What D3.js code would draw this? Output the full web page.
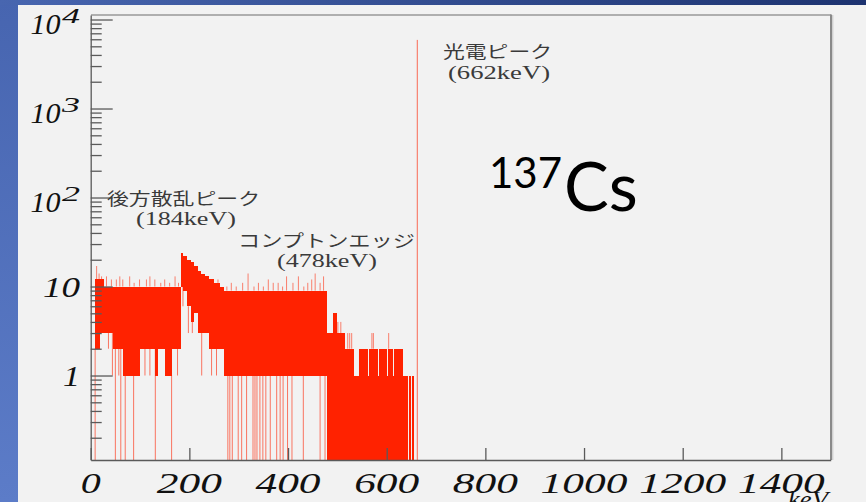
<!DOCTYPE html>
<html lang="ja">
<head>
<meta charset="UTF-8">
<title>137Cs spectrum</title>
<script src="https://cdn.jsdelivr.net/npm/d3@7"></script>
<style>
    body { margin: 0; background: #f2f2f2; }
    svg { display: block; }
    .axis path, .axis line { stroke: #5a5a5a; stroke-width: 1.3; }
    .band { shape-rendering: crispEdges; }
    .lab { font-family: "Liberation Serif", serif; font-style: italic; fill: #111; }
    .jp { font-family: "Noto Sans CJK JP", sans-serif; fill: #3a3a3a; font-size: 17px; }
    .kev { font-family: "Liberation Serif", serif; fill: #3a3a3a; font-size: 18px; }
    .iso { font-family: Lato, "Open Sans", sans-serif; fill: #000; }
</style>
</head>
<body>
<svg width="866" height="502"></svg>
<script>
    // x axis (keV) and y axis (counts, log) ticks
    var xTicks = [0, 200, 400, 600, 800, 1000, 1200, 1400];
    var yDecades = [1, 10, 100, 1000, 10000];

    // spectrum, bin by bin is too fine, so as bands:
    // [from keV, to keV, lowest count, highest count]  (0 = empty bins)
    var bands = [
        [8, 19, 2, 12], [19, 26, 3, 12], [26, 46, 3, 10], [46, 66, 2, 10],
        [66, 100, 1, 10], [100, 131, 2, 10], [131, 136, 1, 10], [136, 151, 2, 10],
        [151, 165, 1, 10], [165, 183, 2, 10],
        [183, 188, 10, 24], [188, 196, 9, 22], [196, 203, 6, 20], [203, 210, 4, 19],
        [210, 217, 5, 17], [217, 224, 3, 15], [224, 232, 3, 14], [232, 240, 3, 13],
        [240, 250, 2, 12], [250, 262, 2, 11], [262, 271, 2, 10], [271, 478, 1, 9],
        [478, 492, 0, 3], [492, 499, 0, 5], [499, 516, 0, 3], [516, 533, 0, 2],
        [533, 543, 0, 1], [543, 562, 0, 2], [562, 564, 0, 1], [564, 583, 0, 2],
        [583, 585, 0, 1], [585, 600, 0, 2], [600, 602, 0, 1], [602, 613, 0, 2],
        [613, 615, 0, 1], [615, 634, 0, 2], [634, 643, 0, 1], [645, 650, 0, 1],
        [652, 655, 0, 1]
    ];

    // single bins above a band: [keV, count]
    var spikes = [
        [12, 17], [17, 14], [22, 13], [32, 13], [42, 12], [52, 12], [59, 13], [65, 12],
        [79, 13], [88, 11], [99, 12], [113, 12], [120, 13], [130, 12], [142, 11],
        [150, 12], [160, 11], [171, 13], [178, 11],
        [258, 12], [276, 10], [285, 11], [295, 10], [308, 11], [319, 14], [331, 10],
        [340, 11], [350, 10], [360, 12], [370, 11], [380, 11], [389, 10], [397, 13],
        [410, 11], [421, 13], [432, 10], [440, 11], [448, 12], [455, 14], [465, 11],
        [472, 13],
        [501, 4], [507, 4], [521, 3], [525, 3], [529, 3], [570, 3], [573, 3], [604, 3]
    ];

    // single bins below a band: [keV, count]
    var dips = [
        [9, 0], [36, 2], [44, 1], [50, 0], [57, 1], [61, 0], [70, 0], [87, 0],
        [110, 1], [120, 1], [131, 0], [164, 0], [176, 1],
        [187, 6], [198, 3], [206, 3], [225, 1], [245, 1], [255, 1],
        [278, 0], [282, 0], [287, 0], [299, 0], [306, 0], [316, 0], [329, 0], [333, 0],
        [337, 0], [343, 0], [349, 0], [355, 0], [364, 0], [377, 0], [384, 0], [390, 0],
        [399, 0], [408, 0], [431, 0], [465, 0], [475, 0]
    ];

    var photoPeak = [662, 5900];

    var notes = [
        ["光電ピーク", "(662keV)"],
        ["後方散乱ピーク", "(184keV)"],
        ["コンプトンエッジ", "(478keV)"]
    ];

    var svg = d3.select("svg");
    var red = "#ff2200";

    // slide background
    var defs = svg.append("defs");
    var gTop = defs.append("linearGradient").attr("id", "topband");
    gTop.append("stop").attr("offset", "0").attr("stop-color", "#4866b0");
    gTop.append("stop").attr("offset", "1").attr("stop-color", "#1d3370");
    var gLeft = defs.append("linearGradient").attr("id", "leftband")
        .attr("x1", 0).attr("y1", 0).attr("x2", 0).attr("y2", 1);
    gLeft.append("stop").attr("offset", "0").attr("stop-color", "#4765b0");
    gLeft.append("stop").attr("offset", "1").attr("stop-color", "#5c7cc8");
    defs.append("clipPath").attr("id", "plotclip").append("rect")
        .attr("x", 91).attr("y", 15).attr("width", 740).attr("height", 445);

    svg.append("rect").attr("width", 866).attr("height", 502).attr("fill", "url(#leftband)");
    svg.append("rect").attr("width", 866).attr("height", 5).attr("fill", "url(#topband)");
    svg.append("rect").attr("x", 18).attr("y", 5).attr("width", 848).attr("height", 497).attr("fill", "#f2f2f2");

    var x = d3.scaleLinear().domain([0, 1500]).range([90.7, 830.7]);
    var y = d3.scaleLog().domain([0.1124, 11240]).range([460, 15]);
    var floorY = function (c) { return c > 0 ? y(c) : 461; };

    function bandAt(k) {
        return bands.find(function (b) { return k >= b[0] && k <= b[1]; });
    }

    var plot = svg.append("g").attr("clip-path", "url(#plotclip)");

    // bands snapped to whole pixels so neighbours join without seams
    plot.selectAll("rect.band")
        .data(bands)
        .enter()
        .append("rect")
        .attr("class", "band")
        .attr("x", function (d) { return Math.round(x(d[0])); })
        .attr("width", function (d) { return Math.max(1, Math.round(x(d[1])) - Math.round(x(d[0]))); })
        .attr("y", function (d) { return Math.round(y(d[3])); })
        .attr("height", function (d) { return Math.round(floorY(d[2])) - Math.round(y(d[3])); })
        .attr("fill", red);

    plot.selectAll("line.spike")
        .data(spikes)
        .enter()
        .append("line")
        .attr("x1", function (d) { return x(d[0]); })
        .attr("x2", function (d) { return x(d[0]); })
        .attr("y1", function (d) { var b = bandAt(d[0]); return b ? y(b[3]) : 461; })
        .attr("y2", function (d) { return y(d[1]); })
        .attr("stroke", red).attr("stroke-width", 1).attr("opacity", 0.55);

    plot.selectAll("line.dip")
        .data(dips)
        .enter()
        .append("line")
        .attr("x1", function (d) { return x(d[0]); })
        .attr("x2", function (d) { return x(d[0]); })
        .attr("y1", function (d) { var b = bandAt(d[0]); return b ? floorY(b[2]) : y(1); })
        .attr("y2", function (d) { return floorY(d[1]); })
        .attr("stroke", red).attr("stroke-width", 1).attr("opacity", 0.6);

    plot.append("line")
        .attr("x1", x(photoPeak[0])).attr("x2", x(photoPeak[0]))
        .attr("y1", 461).attr("y2", y(photoPeak[1]))
        .attr("stroke", red).attr("stroke-width", 1).attr("opacity", 0.65);

    // frame
    svg.append("line").attr("x1", 91).attr("x2", 831).attr("y1", 15).attr("y2", 15)
        .attr("stroke", "#999").attr("stroke-width", 1.5);
    svg.append("line").attr("x1", 831).attr("x2", 831).attr("y1", 14.5).attr("y2", 460)
        .attr("stroke", "#8a8a8a").attr("stroke-width", 2);
    svg.append("line").attr("x1", 832.8).attr("x2", 832.8).attr("y1", 15).attr("y2", 460)
        .attr("stroke", "#c4c4c4").attr("stroke-width", 1);

    // axes
    svg.append("g").attr("class", "axis").attr("transform", "translate(0,460)")
        .call(d3.axisBottom(x).tickValues(xTicks).tickSize(-12).tickSizeOuter(0).tickFormat(""))
        .select(".domain").attr("stroke-width", 2);

    var minor = y.ticks().filter(function (v) { return yDecades.indexOf(v) < 0 && v > 0.15; });
    svg.append("g").attr("class", "axis").attr("transform", "translate(90.7,0)")
        .call(d3.axisLeft(y).tickValues(minor).tickSize(-11).tickSizeOuter(0).tickFormat(""))
        .select(".domain").attr("stroke-width", 2);
    svg.append("g").attr("class", "axis").attr("transform", "translate(90.7,0)")
        .call(d3.axisLeft(y).tickValues(yDecades).tickSize(-22).tickSizeOuter(0).tickFormat(""))
        .select(".domain").remove();

    // x labels
    xTicks.forEach(function (v) {
        var s = String(v);
        var w = s.length === 1 ? 20 : s.length * 21.7;
        svg.append("text").attr("class", "lab")
            .attr("x", x(v) - w / 2).attr("y", 493)
            .attr("font-size", 30)
            .attr("textLength", w).attr("lengthAdjust", "spacingAndGlyphs")
            .text(s);
    });
    svg.append("text").attr("class", "lab")
        .attr("x", 788).attr("y", 507).attr("font-size", 24)
        .attr("textLength", 40).attr("lengthAdjust", "spacingAndGlyphs")
        .attr("fill", "#333")
        .text("keV");

    // y labels
    yDecades.forEach(function (v) {
        var ty = y(v);
        var e = Math.round(Math.log10(v));
        if (e < 2) {
            var s = String(v);
            var w = s.length === 1 ? 17 : 37;
            svg.append("text").attr("class", "lab")
                .attr("x", 80 - w).attr("y", ty + 10).attr("font-size", 30)
                .attr("textLength", w).attr("lengthAdjust", "spacingAndGlyphs")
                .text(s);
        } else {
            svg.append("text").attr("class", "lab")
                .attr("x", 30.5).attr("y", ty + 14).attr("font-size", 30)
                .attr("textLength", 30).attr("lengthAdjust", "spacingAndGlyphs")
                .text("10");
            svg.append("text").attr("class", "lab")
                .attr("x", 62).attr("y", ty + 3).attr("font-size", 22)
                .attr("textLength", 18).attr("lengthAdjust", "spacingAndGlyphs")
                .text(String(e));
        }
    });

    // annotations: [name x, name baseline, name width, energy x, energy baseline, energy width]
    var notePos = [
        [443, 58, 109, 448, 79, 102],
        [107, 205, 153, 136, 225, 100],
        [238, 247, 177, 277, 267, 100]
    ];
    notes.forEach(function (n, i) {
        var p = notePos[i];
        svg.append("text").attr("class", "jp")
            .attr("x", p[0]).attr("y", p[1])
            .attr("textLength", p[2]).attr("lengthAdjust", "spacingAndGlyphs")
            .text(n[0]);
        svg.append("text").attr("class", "kev")
            .attr("x", p[3]).attr("y", p[4])
            .attr("textLength", p[5]).attr("lengthAdjust", "spacingAndGlyphs")
            .text(n[1]);
    });

    // isotope
    var iso = svg.append("text").attr("class", "iso").attr("x", 489).attr("y", 211);
    iso.append("tspan").attr("font-size", 42).attr("dy", -23).text("137");
    iso.append("tspan").attr("font-size", 67).attr("dy", 23).attr("dx", 2).text("Cs");
</script>
</body>
</html>
